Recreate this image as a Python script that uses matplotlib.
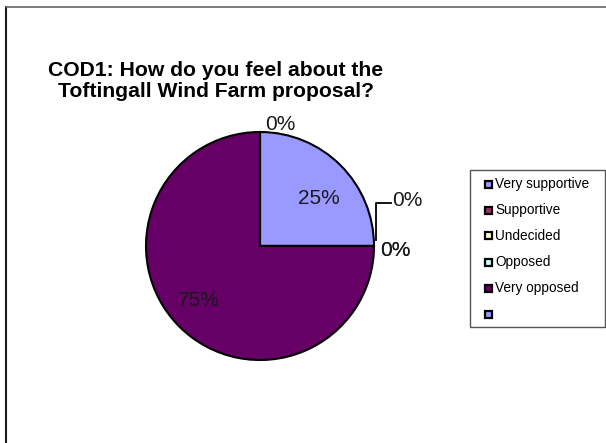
import numpy as np
import matplotlib
matplotlib.use("Agg")
import matplotlib.pyplot as plt
from matplotlib.patches import Rectangle
from matplotlib.lines import Line2D

plt.rcParams['font.family'] = ['Liberation Sans', 'DejaVu Sans']

# ---- data ----
categories = ["Very supportive", "Supportive", "Undecided", "Opposed", "Very opposed", ""]
values = [25, 0, 0, 0, 75, 0]
colors = ["#9999FF", "#993366", "#FFFFCC", "#CCFFFF", "#660066", "#9999FF"]
title = "COD1: How do you feel about the\nToftingall Wind Farm proposal?"

W, H = 606, 443
fig = plt.figure(figsize=(W / 100, H / 100), dpi=100)
fig.patch.set_facecolor("white")


def fx(px):
    return px / W


def fy(py):
    return 1 - py / H


# outer chart border (cropped chart area)
fig.add_artist(Line2D([fx(6), fx(6)], [0, fy(7)], color="#1a1a1a", lw=1.5))
fig.add_artist(Line2D([fx(6), 1], [fy(7), fy(7)], color="#666666", lw=1.2))

# pie axes: centre (260,246) px, radius 114 px
cx, cy, R = 260, 246, 114
ax = fig.add_axes([(cx - R) / W, (H - cy - R) / H, 2 * R / W, 2 * R / H])
wedges, _ = ax.pie(values, colors=colors, startangle=90, counterclock=False,
                   radius=1.0, wedgeprops=dict(edgecolor="black", linewidth=1.5))
ax.set_xlim(-1, 1)
ax.set_ylim(-1, 1)
ax.set_aspect("equal")
ax.axis("off")

total = sum(values)
label_fs = 15
for i, (w, v) in enumerate(zip(wedges, values)):
    pct = f"{round(100 * v / total)}%"
    if v > 0:
        off, d = (-6, 0.66) if i == 0 else (-3, 0.72)
        mid = np.deg2rad((w.theta1 + w.theta2) / 2 + off)
        ax.text(d * np.cos(mid), d * np.sin(mid), pct, ha="center", va="center",
                fontsize=label_fs, color="#1a1a1a")
    else:
        a = np.deg2rad(w.theta1)
        px, py = np.cos(a), np.sin(a)
        if i == 5:
            ax.text(px + 0.18, py + 0.07, pct, ha="center", va="center",
                    fontsize=label_fs, color="#1a1a1a", clip_on=False)
        elif i == 1:
            # moved label with leader line
            ax.plot([px + 0.02, px + 0.02, px + 0.15], [py + 0.05, py + 0.38, py + 0.38],
                    color="black", lw=1.3, clip_on=False)
            ax.text(px + 0.29, py + 0.40, pct, ha="center", va="center",
                    fontsize=label_fs, color="#1a1a1a", clip_on=False)
        else:
            ax.text(px + 0.19, py - 0.04, pct, ha="center", va="center",
                    fontsize=label_fs, color="#1a1a1a", clip_on=False)

# title
fig.text(fx(216), fy(81), title, ha="center", va="center", fontsize=15.2,
         fontweight="bold", linespacing=1.14)

# legend (drawn as a framed key)
lx0, ly0, lx1, ly1 = 470, 170, 605, 327
fig.add_artist(Rectangle((fx(lx0), fy(ly1)), fx(lx1) - fx(lx0), fy(ly0) - fy(ly1),
                         facecolor="white", edgecolor="#555555", lw=1.0))
for k, (name, c) in enumerate(zip(categories, colors)):
    ry = 184 + 26 * k
    fig.add_artist(Rectangle((fx(485), fy(ry + 3.5)), fx(7), 7 / H,
                             facecolor=c, edgecolor="black", lw=1.6))
    fig.text(fx(495), fy(ry), name, ha="left", va="center", fontsize=9.8,
             color="black")

fig.savefig("out.png", dpi=100)
